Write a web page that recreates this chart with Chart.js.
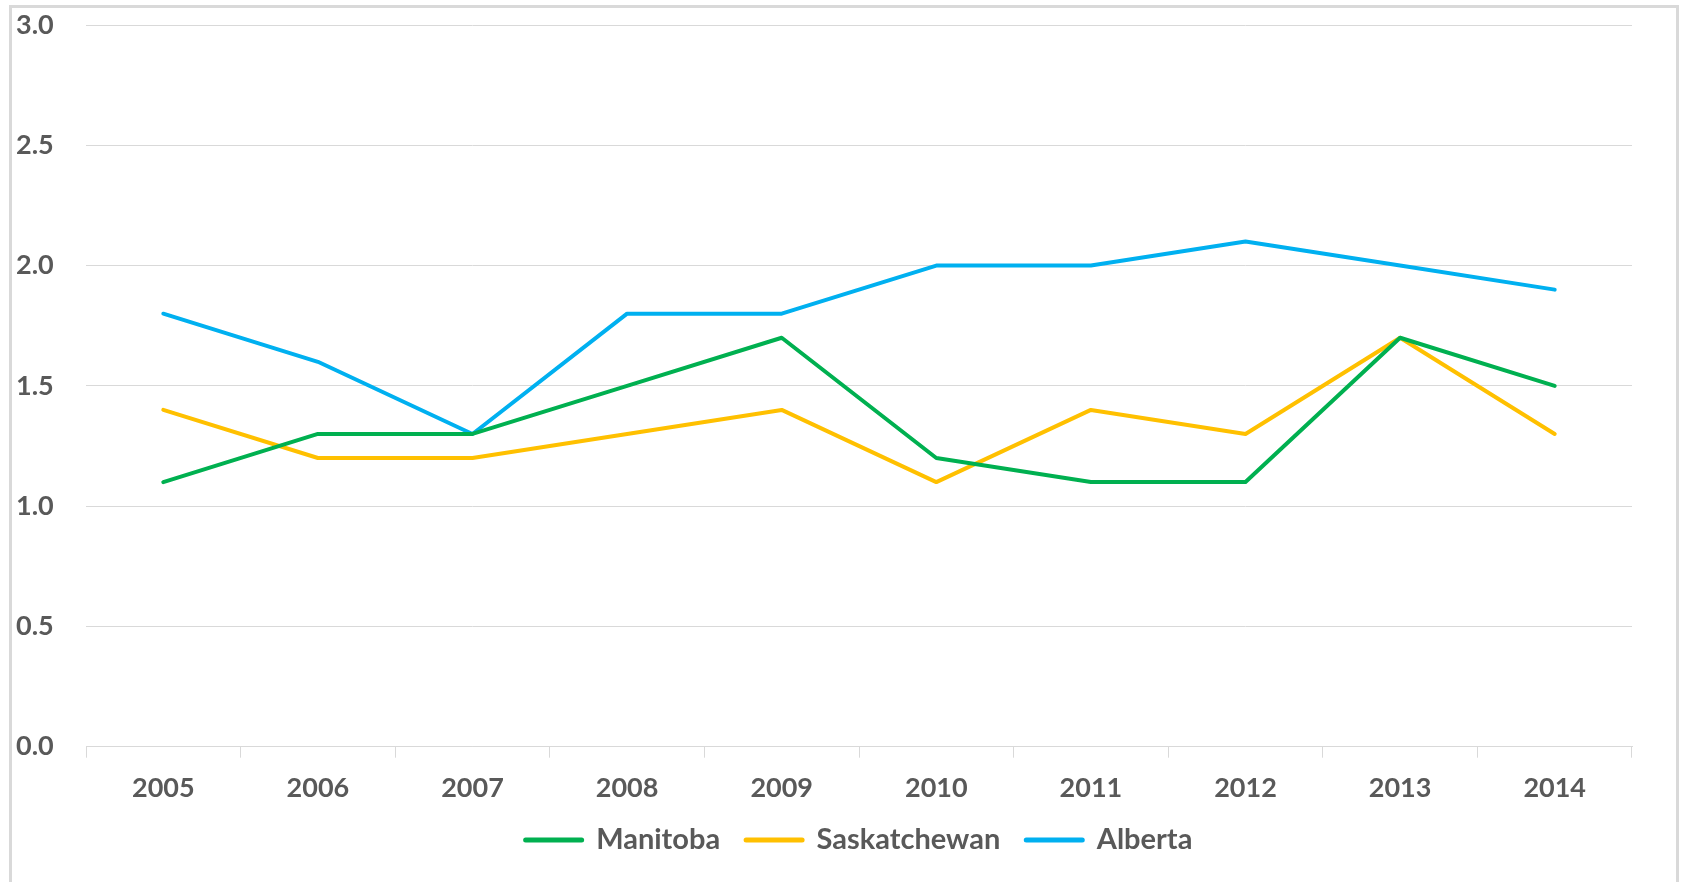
<!DOCTYPE html>
<html>
<head>
<meta charset="utf-8">
<script src="https://cdn.jsdelivr.net/npm/chart.js@4/dist/chart.umd.min.js"></script>
<style>
  html, body { margin: 0; padding: 0; background: #ffffff; overflow: hidden; }
  #frame {
    position: absolute; left: 9px; top: 5px; width: 1664px; height: 900px;
    border: 3px solid #d9d9d9; border-bottom: none;
  }
  #wrap { position: absolute; left: 0; top: 0; width: 1683px; height: 882px; }
</style>
</head>
<body>
<div id="frame"></div>
<div id="wrap"><canvas id="chart"></canvas></div>
<script>
// categories
let years = ['2005', '2006', '2007', '2008', '2009', '2010', '2011', '2012', '2013', '2014']

// series values
let manitoba = [1.1, 1.3, 1.3, 1.5, 1.7, 1.2, 1.1, 1.1, 1.7, 1.5]
let saskatchewan = [1.4, 1.2, 1.2, 1.3, 1.4, 1.1, 1.4, 1.3, 1.7, 1.3]
let alberta = [1.8, 1.6, 1.3, 1.8, 1.8, 2.0, 2.0, 2.1, 2.0, 1.9]

// y axis ticks
let yMin = 0
let yMax = 3
let yStep = 0.5

let textColor = '#595959'
let gridColor = '#d9d9d9'
let fontFamily = 'Lato, "Open Sans", sans-serif'

function lineSet(label, data, color) {
    return {
        label: label,
        data: data,
        borderColor: color,
        backgroundColor: color,
        borderWidth: 4,
        borderJoinStyle: 'round',
        borderCapStyle: 'round',
        pointRadius: 0,
        pointHoverRadius: 0,
        tension: 0,
        fill: false
    }
}

let ctx = document.getElementById('chart')

let chart = new Chart(ctx, {
    type: 'line',
    data: {
        labels: years,
        datasets: [
            lineSet('Manitoba', manitoba, '#00b050'),
            lineSet('Saskatchewan', saskatchewan, '#ffc000'),
            lineSet('Alberta', alberta, '#00b0f0')
        ]
    },
    options: {
        responsive: true,
        maintainAspectRatio: false,
        animation: false,
        layout: {
            padding: { left: 16, right: 51, top: 25, bottom: 17.5 }
        },
        scales: {
            x: {
                offset: true,
                grid: {
                    offset: true,
                    drawOnChartArea: false,
                    drawTicks: true,
                    tickLength: 11,
                    color: gridColor,
                    lineWidth: 1
                },
                border: { display: true, color: gridColor, width: 1 },
                ticks: {
                    color: textColor,
                    padding: 14,
                    maxRotation: 0,
                    font: { family: fontFamily, size: 27, weight: 'bold' }
                },
                afterFit: function (scale) { scale.height = 52.8 }
            },
            y: {
                min: yMin,
                max: yMax,
                grid: {
                    color: gridColor,
                    lineWidth: 1,
                    drawTicks: false
                },
                border: { display: false },
                ticks: {
                    stepSize: yStep,
                    color: textColor,
                    crossAlign: 'far',
                    font: { family: fontFamily, size: 27, weight: 'bold' },
                    callback: function (value) { return Number(value).toFixed(1) }
                },
                afterFit: function (scale) { scale.width = 70 }
            }
        },
        plugins: {
            legend: {
                display: true,
                position: 'bottom',
                fullSize: false,
                labels: {
                    usePointStyle: true,
                    pointStyle: 'line',
                    pointStyleWidth: 56,
                    padding: 26,
                    color: textColor,
                    font: { family: fontFamily, size: 29, weight: 'bold' },
                    generateLabels: function (chart) {
                        // thicker legend lines, like the original
                        let items = Chart.defaults.plugins.legend.labels.generateLabels(chart)
                        items.forEach(function (item) {
                            item.lineWidth = 5
                            item.lineCap = 'round'
                        })
                        return items
                    }
                }
            },
            tooltip: { enabled: false }
        }
    }
})
</script>
</body>
</html>
